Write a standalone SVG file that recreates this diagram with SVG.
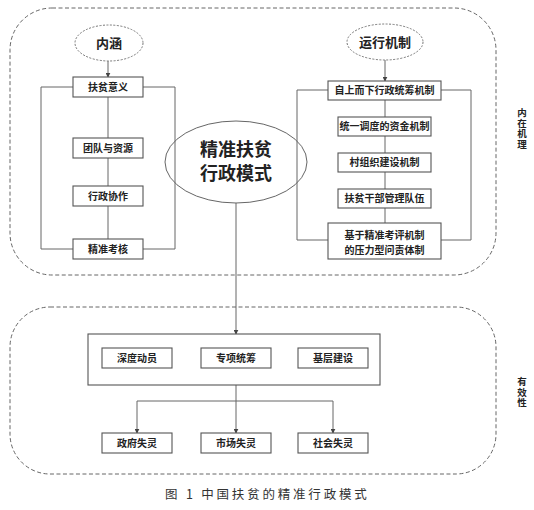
<svg xmlns="http://www.w3.org/2000/svg" width="534" height="510" viewBox="0 0 534 510">
<defs>
<style>
.bg{fill:#ffffff}
.dash{fill:none;stroke:#666;stroke-width:1;stroke-dasharray:4 2.5}
.box{fill:#fff;stroke:#555;stroke-width:1.1}
.ell{fill:none;stroke:#666;stroke-width:1}
.ell2{fill:none;stroke:#777;stroke-width:1;stroke-dasharray:2 1.5}
.ln{fill:none;stroke:#666;stroke-width:1}
.t{font-family:"Noto Sans CJK SC","Microsoft YaHei",sans-serif;font-weight:bold;font-size:10px;fill:#222;text-anchor:middle}
.th{font-size:13px}
.tc{font-size:18px}
.tv{font-size:9.5px;writing-mode:vertical-rl;text-anchor:start;letter-spacing:1px}
.cap{font-family:"Noto Sans CJK SC",serif;font-weight:normal;font-size:12.5px;fill:#333;letter-spacing:2.8px}
</style>
<marker id="ar" viewBox="0 0 8 8" refX="7" refY="4" markerWidth="5" markerHeight="5" orient="auto" markerUnits="userSpaceOnUse">
<path d="M0,0 L8,4 L0,8 z" fill="#444"/>
</marker>
</defs>
<rect class="bg" x="0" y="0" width="534" height="510"/>

<g id="regions">
<rect id="region-top" class="dash" x="10" y="8" width="486" height="267" rx="42" ry="42"/>
<rect id="region-bottom" class="dash" x="10" y="307" width="486" height="167" rx="40" ry="40"/>
</g>

<g id="connectors">
<line class="ln" x1="108" y1="61" x2="108" y2="77" marker-end="url(#ar)"/>
<line class="ln" x1="108" y1="97" x2="108" y2="239"/>
<polyline class="ln" points="73,87 41,87 41,249 73,249"/>
<polyline class="ln" points="143,87 175,87 175,249 143,249"/>
<line class="ln" x1="385" y1="60" x2="385" y2="81" marker-end="url(#ar)"/>
<line class="ln" x1="385" y1="100" x2="385" y2="223"/>
<polyline class="ln" points="328,90 297,90 297,240 328,240"/>
<polyline class="ln" points="441,90 471,90 471,240 441,240"/>
<line class="ln" x1="236" y1="203" x2="236" y2="334" marker-end="url(#ar)"/>
<line class="ln" x1="172" y1="358" x2="201" y2="358"/>
<line class="ln" x1="271" y1="358" x2="298" y2="358"/>
<line class="ln" x1="236" y1="385" x2="236" y2="433" marker-end="url(#ar)"/>
<line class="ln" x1="137" y1="401" x2="333" y2="401"/>
<line class="ln" x1="137" y1="401" x2="137" y2="433" marker-end="url(#ar)"/>
<line class="ln" x1="333" y1="401" x2="333" y2="433" marker-end="url(#ar)"/>
</g>

<g id="node-neihan"><ellipse class="ell2" cx="109" cy="43" rx="34" ry="18"/><text class="t th" x="109" y="47.5">内涵</text></g>
<g id="node-yunxing"><ellipse class="ell2" cx="385" cy="42" rx="38" ry="18"/><text class="t th" x="385" y="46.5">运行机制</text></g>
<g id="node-center"><ellipse class="ell" cx="236" cy="162" rx="71" ry="41"/><text class="t tc" x="236" y="156">精准扶贫<tspan x="236" dy="24">行政模式</tspan></text></g>

<g id="node-l1"><rect class="box" x="73" y="77" width="70" height="20"/><text class="t" x="108" y="90.5">扶贫意义</text></g>
<g id="node-l2"><rect class="box" x="73" y="138" width="70" height="20"/><text class="t" x="108" y="151.5">团队与资源</text></g>
<g id="node-l3"><rect class="box" x="73" y="186" width="70" height="20"/><text class="t" x="108" y="199.5">行政协作</text></g>
<g id="node-l4"><rect class="box" x="73" y="239" width="70" height="20"/><text class="t" x="108" y="252.5">精准考核</text></g>

<g id="node-r1"><rect class="box" x="328" y="81" width="113" height="19"/><text class="t" x="384.5" y="94">自上而下行政统筹机制</text></g>
<g id="node-r2"><rect class="box" x="338" y="117" width="93" height="19"/><text class="t" x="384.5" y="130">统一调度的资金机制</text></g>
<g id="node-r3"><rect class="box" x="338" y="153" width="93" height="19"/><text class="t" x="384.5" y="166">村组织建设机制</text></g>
<g id="node-r4"><rect class="box" x="338" y="189" width="93" height="19"/><text class="t" x="384.5" y="202">扶贫干部管理队伍</text></g>
<g id="node-r5"><rect class="box" x="328" y="223" width="113" height="36"/><text class="t" x="384.5" y="238.5">基于精准考评机制<tspan x="384.5" dy="15">的压力型问责体制</tspan></text></g>

<g id="node-group"><rect class="box" x="88" y="334" width="292" height="51" fill="none"/></g>
<g id="node-b1"><rect class="box" x="102" y="348" width="70" height="20"/><text class="t" x="137" y="361.5">深度动员</text></g>
<g id="node-b2"><rect class="box" x="201" y="348" width="70" height="20"/><text class="t" x="236" y="361.5">专项统筹</text></g>
<g id="node-b3"><rect class="box" x="298" y="348" width="70" height="20"/><text class="t" x="333" y="361.5">基层建设</text></g>
<g id="node-c1"><rect class="box" x="102" y="433" width="70" height="20"/><text class="t" x="137" y="446.5">政府失灵</text></g>
<g id="node-c2"><rect class="box" x="201" y="433" width="70" height="20"/><text class="t" x="236" y="446.5">市场失灵</text></g>
<g id="node-c3"><rect class="box" x="298" y="433" width="70" height="20"/><text class="t" x="333" y="446.5">社会失灵</text></g>

<text id="label-neizai" class="t tv" x="522" y="108">内在机理</text>
<text id="label-youxiao" class="t tv" x="522" y="377">有效性</text>

<text class="cap" x="165" y="499">图 1  中国扶贫的精准行政模式</text>
</svg>
